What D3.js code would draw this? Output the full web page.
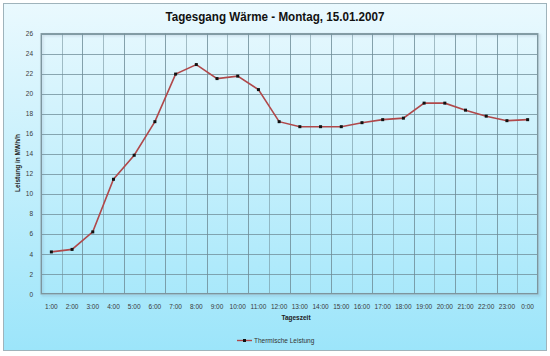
<!DOCTYPE html>
<html><head><meta charset="utf-8">
<script src="https://cdn.jsdelivr.net/npm/d3@7"></script>
<style>body{margin:0;background:#fff}svg{display:block}</style>
</head><body>
<svg id="c" width="550" height="356"></svg>
<script>
const hours = ["1:00","2:00","3:00","4:00","5:00","6:00","7:00","8:00","9:00","10:00","11:00","12:00",
  "13:00","14:00","15:00","16:00","17:00","18:00","19:00","20:00","21:00","22:00","23:00","0:00"];
const leistung = [4.2,4.45,6.2,11.45,13.85,17.2,21.95,22.9,21.5,21.75,20.4,17.2,
  16.7,16.7,16.7,17.1,17.4,17.55,19.05,19.05,18.35,17.75,17.3,17.4];
const yTicks = [0,2,4,6,8,10,12,14,16,18,20,22,24,26];
const seriesName = "Thermische Leistung";
const title = "Tagesgang Wärme - Montag, 15.01.2007";

const svg = d3.select("#c");
const defs = svg.append("defs");
const g1 = defs.append("linearGradient").attr("id","bg").attr("x1",0).attr("y1",0).attr("x2",0).attr("y2",1);
g1.append("stop").attr("offset","0%").attr("stop-color","#eaf9fe");
g1.append("stop").attr("offset","100%").attr("stop-color","#9ce5fa");
const f = defs.append("filter").attr("id","sh").attr("x","-5%").attr("y","-5%").attr("width","110%").attr("height","110%");
f.append("feDropShadow").attr("dx",1.5).attr("dy",1.5).attr("stdDeviation",1).attr("flood-color","#557").attr("flood-opacity",0.35);

svg.append("rect").attr("x",3.5).attr("y",3.5).attr("width",543).attr("height",347)
  .attr("fill","url(#bg)").attr("stroke","#9fb3bb").attr("stroke-width",1);

const m = {l:41, r:538, t:33.5, b:294};
const x = d3.scaleBand().domain(hours).range([m.l, m.r]);
const y = d3.scaleLinear().domain([0,26]).range([m.b, m.t]);

svg.append("rect").attr("x",m.l).attr("y",m.t).attr("width",m.r-m.l).attr("height",m.b-m.t)
  .attr("fill","none").attr("stroke","#8ea3ab").attr("stroke-width",1).attr("filter","url(#sh)");

const grid = svg.append("g");
grid.selectAll("line.h").data(yTicks.slice(1)).join("line").attr("class","h")
  .attr("x1",m.l).attr("x2",m.r).attr("y1",d=>Math.round(y(d))+0.5).attr("y2",d=>Math.round(y(d))+0.5)
  .attr("stroke","#6e8c97").attr("stroke-width",1).attr("opacity",0.75);
grid.selectAll("line.v").data(hours.slice(1)).join("line").attr("class","v")
  .attr("x1",d=>Math.round(x(d))+0.5).attr("x2",d=>Math.round(x(d))+0.5).attr("y1",m.t).attr("y2",m.b)
  .attr("stroke","#6e8c97").attr("stroke-width",1).attr("opacity",(d,i)=> i%2===0 ? 0.55 : 0.8);
svg.append("rect").attr("x",m.l+0.5).attr("y",m.t+0.5).attr("width",m.r-m.l-1).attr("height",m.b-m.t-1)
  .attr("fill","none").attr("stroke","#7d959e");

const yAxis = d3.axisLeft(y).tickValues(yTicks).tickSize(0).tickPadding(8);
svg.append("g").attr("transform",`translate(${m.l},0)`).call(yAxis)
  .call(g=>g.select(".domain").remove())
  .selectAll("text").attr("font-family","Liberation Sans, Arial, sans-serif").attr("font-size",6.5).attr("fill","#3a3a3a");

const xAxis = d3.axisBottom(x).tickSize(0).tickPadding(10);
svg.append("g").attr("transform",`translate(0,${m.b})`).call(xAxis)
  .call(g=>g.select(".domain").remove())
  .selectAll("text").attr("font-family","Liberation Sans, Arial, sans-serif").attr("font-size",6.5).attr("fill","#3a3a3a");

const line = d3.line().x((d,i)=>x(hours[i])+x.bandwidth()/2).y(d=>y(d));
svg.append("path").datum(leistung).attr("d",line).attr("fill","none")
  .attr("stroke","#b0484a").attr("stroke-width",1.6);
svg.selectAll("rect.pt").data(leistung).join("rect").attr("class","pt")
  .attr("x",(d,i)=>x(hours[i])+x.bandwidth()/2-1.5).attr("y",d=>y(d)-1.5)
  .attr("width",3).attr("height",3).attr("fill","#111");

svg.append("text").attr("x",275).attr("y",21).attr("text-anchor","middle")
  .attr("font-family","Liberation Sans, Arial, sans-serif").attr("font-weight","bold").attr("font-size",12)
  .attr("textLength",219).attr("lengthAdjust","spacingAndGlyphs")
  .attr("fill","#111").text(title);

svg.append("text").attr("transform","translate(20,163) rotate(-90)").attr("text-anchor","middle")
  .attr("font-family","Liberation Sans, Arial, sans-serif").attr("font-weight","bold").attr("font-size",6.5)
  .attr("fill","#222").text("Leistung in MWh/h");

svg.append("text").attr("x",296).attr("y",320).attr("text-anchor","middle")
  .attr("font-family","Liberation Sans, Arial, sans-serif").attr("font-weight","bold").attr("font-size",6.5)
  .attr("fill","#222").text("Tageszeit");

const lg = svg.append("g").attr("transform","translate(237,340.5)");
lg.append("line").attr("x1",0).attr("x2",15).attr("y1",0).attr("y2",0).attr("stroke","#b0484a").attr("stroke-width",1.4);
lg.append("rect").attr("x",6).attr("y",-1.5).attr("width",3).attr("height",3).attr("fill","#111");
lg.append("text").attr("x",17).attr("y",2.3).attr("font-family","Liberation Sans, Arial, sans-serif")
  .attr("font-size",6.5).attr("fill","#333").text(seriesName);
</script>
</body></html>
